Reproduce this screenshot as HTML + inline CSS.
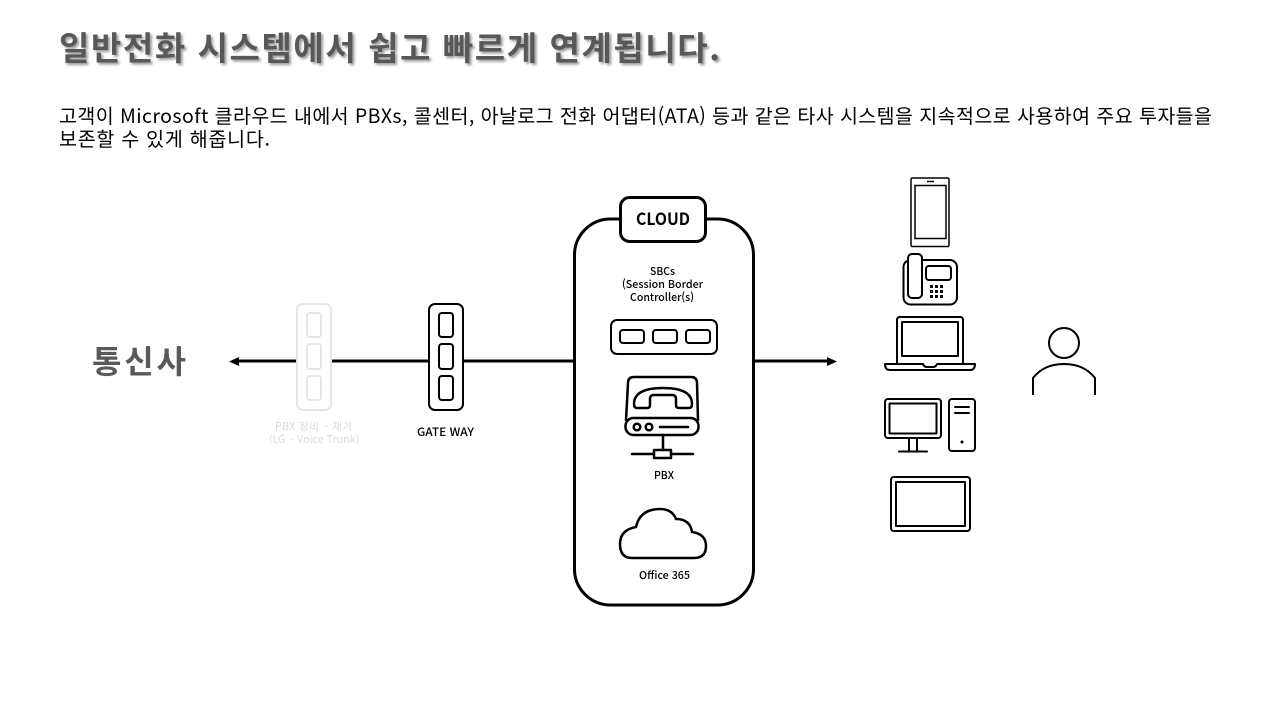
<!DOCTYPE html>
<html lang="ko">
<head>
<meta charset="utf-8">
<style>
html,body{margin:0;padding:0;background:#fff;width:1280px;height:720px;overflow:hidden}
svg{display:block}
text{font-family:"Noto Sans CJK KR","Liberation Sans",sans-serif}
.l{fill:none;stroke:#000;stroke-width:2;stroke-linecap:round;stroke-linejoin:round}
.t{stroke-width:2.500}
.g{fill:none;stroke:#e6e6e6;stroke-width:2}
</style>
</head>
<body>
<svg width="1280" height="720" viewBox="0 0 1280 720" xmlns="http://www.w3.org/2000/svg">
<defs><filter id="s" x="-5%" y="-30%" width="110%" height="160%"><feDropShadow dx="2" dy="2" stdDeviation="1.200" flood-color="#000" flood-opacity=".4"/></filter></defs>

<text x="59" y="60" font-size="33" font-weight="700" fill="#595959" filter="url(#s)" textLength="661" lengthAdjust="spacing">일반전화 시스템에서 쉽고 빠르게 연계됩니다.</text>
<text x="59" y="123" font-size="19.500" fill="#000" textLength="1153" lengthAdjust="spacing">고객이 Microsoft 클라우드 내에서 PBXs, 콜센터, 아날로그 전화 어댑터(ATA) 등과 같은 타사 시스템을 지속적으로 사용하여 주요 투자들을</text>
<text x="59" y="146" font-size="19.500" fill="#000" textLength="211" lengthAdjust="spacing">보존할 수 있게 해줍니다.</text>

<text x="92" y="373" font-size="32" font-weight="700" fill="#595959" textLength="94" lengthAdjust="spacing">통신사</text>

<!-- connectors -->
<g stroke="#000" stroke-width="3" fill="none">
<path d="M236 361H297M331 361H429M463 361H575M753 361H829"/>
</g>
<path d="M229 361.500L239 357V366Z M837 361.500L827 357V366Z" fill="#000"/>

<!-- ghost PBX -->
<rect class="g" x="297" y="304" width="34" height="106" rx="6"/>
<rect class="g" x="307" y="313" width="14" height="24" rx="3"/>
<rect class="g" x="307" y="344" width="14" height="25" rx="3"/>
<rect class="g" x="307" y="376" width="14" height="24" rx="3"/>
<text x="275" y="430" font-size="10.500" fill="#d9d9d9" textLength="77" lengthAdjust="spacing">PBX 장비 – 제거</text>
<text x="269" y="443" font-size="10.500" fill="#d9d9d9" textLength="90" lengthAdjust="spacing">(LG – Voice Trunk)</text>

<!-- gateway -->
<rect class="l" x="429" y="304" width="34" height="106" rx="6" style="fill:#fff"/>
<rect class="l" x="439" y="313" width="14" height="24" rx="3"/>
<rect class="l" x="439" y="344" width="14" height="25" rx="3"/>
<rect class="l" x="439" y="376" width="14" height="24" rx="3"/>
<text x="417" y="436" font-size="11.500" font-weight="500" fill="#000" textLength="57" lengthAdjust="spacingAndGlyphs">GATE WAY</text>

<!-- cloud container -->
<rect x="574.500" y="219" width="179" height="386" rx="36" fill="#fff" stroke="#000" stroke-width="3"/>
<rect x="620.500" y="197.500" width="85" height="44" rx="9" fill="#fff" stroke="#000" stroke-width="3"/>
<text x="636" y="225" font-size="17" font-weight="700" fill="#000" textLength="54" lengthAdjust="spacingAndGlyphs">CLOUD</text>

<g font-size="11" fill="#000" font-weight="500">
<text x="650" y="275" textLength="25" lengthAdjust="spacingAndGlyphs">SBCs</text>
<text x="622" y="288" textLength="81" lengthAdjust="spacingAndGlyphs">(Session Border</text>
<text x="630" y="301" textLength="64" lengthAdjust="spacingAndGlyphs">Controller(s)</text>
<text x="654" y="479" textLength="20" lengthAdjust="spacingAndGlyphs">PBX</text>
<text x="639" y="579" textLength="51" lengthAdjust="spacingAndGlyphs">Office 365</text>
</g>

<!-- SBC -->
<rect class="l" x="611" y="320" width="106" height="34" rx="6"/>
<rect class="l" x="620" y="330" width="24" height="13" rx="3"/>
<rect class="l" x="653" y="330" width="24" height="13" rx="3"/>
<rect class="l" x="686" y="330" width="24" height="13" rx="3"/>

<!-- PBX icon -->
<path class="l t" d="M626 420L628 383Q628 377 634 377H691Q697 377 697 383L698 420"/>
<rect class="l t" x="625.500" y="418" width="73" height="17" rx="8"/>
<circle class="l t" cx="637" cy="427" r="3.300"/>
<circle class="l t" cx="649" cy="427" r="3.300"/>
<path class="l t" d="M660 427H688M663 435V450M632 454H654M671 454H693"/>
<rect class="l t" x="654" y="450" width="17" height="8"/>
<path class="l t" d="M637 408Q634 408 634 404Q634 388 663 388Q692 388 692 404Q692 408 689 408H679Q676 408 676 405V399Q676 395 672 395H654Q650 395 650 399V405Q650 408 647 408Z"/>

<!-- cloud icon -->
<path class="l t" d="M632 558Q620 558 620 544Q620 530 636 527Q640 509 660 509Q672 509 676 519Q690 519 692 532Q706 534 706 546Q706 558 694 558Z"/>

<!-- mobile -->
<rect x="911" y="178" width="38" height="68.500" rx="1.500" fill="none" stroke="#000" stroke-width="1.500"/>
<rect x="915" y="185.500" width="31" height="53" fill="none" stroke="#000" stroke-width="1.500"/>
<path d="M927 181.500H934" stroke="#000" stroke-width="1.500"/>

<!-- desk phone -->
<rect class="l" x="903.500" y="260" width="53.500" height="44.500" rx="7"/>
<rect class="l" x="908" y="254" width="14" height="44" rx="4" style="fill:#fff"/>
<rect class="l" x="926" y="266" width="25" height="14" rx="3"/>
<g fill="#000">
<rect x="930" y="285" width="3" height="3"/><rect x="935" y="285" width="3" height="3"/><rect x="940" y="285" width="3" height="3"/>
<rect x="930" y="290" width="3" height="3"/><rect x="935" y="290" width="3" height="3"/><rect x="940" y="290" width="3" height="3"/>
<rect x="930" y="295" width="3" height="3"/><rect x="935" y="295" width="3" height="3"/><rect x="940" y="295" width="3" height="3"/>
</g>

<!-- laptop -->
<path class="l" d="M897 363V320Q897 317 900 317H960Q963 317 963 320V363"/>
<rect class="l" x="902" y="322" width="56" height="34"/>
<path class="l" d="M885 364H923Q924 367 927 367H933Q936 367 937 364H975Q975 370 970 370H890Q885 370 885 364Z"/>

<!-- desktop -->
<rect class="l" x="885" y="399" width="56" height="39" rx="3"/>
<rect class="l" x="889.500" y="403.500" width="47" height="30"/>
<path class="l" d="M909 438V451M917 438V451M899 451.500H927"/>
<rect class="l" x="949" y="399" width="26" height="52" rx="3"/>
<path class="l" d="M955 407H969M955 413H969"/>
<circle cx="962" cy="442" r="1.500" fill="#000"/>

<!-- tablet -->
<rect class="l" x="891" y="477" width="79" height="54" rx="3"/>
<rect class="l" x="896" y="482" width="69" height="44"/>

<!-- person -->
<circle cx="1064" cy="343" r="15" fill="none" stroke="#000" stroke-width="2"/>
<path d="M1033 395V378Q1044 364 1064 364Q1084 364 1095 378V395" fill="none" stroke="#000" stroke-width="2"/>
</svg>
</body>
</html>
